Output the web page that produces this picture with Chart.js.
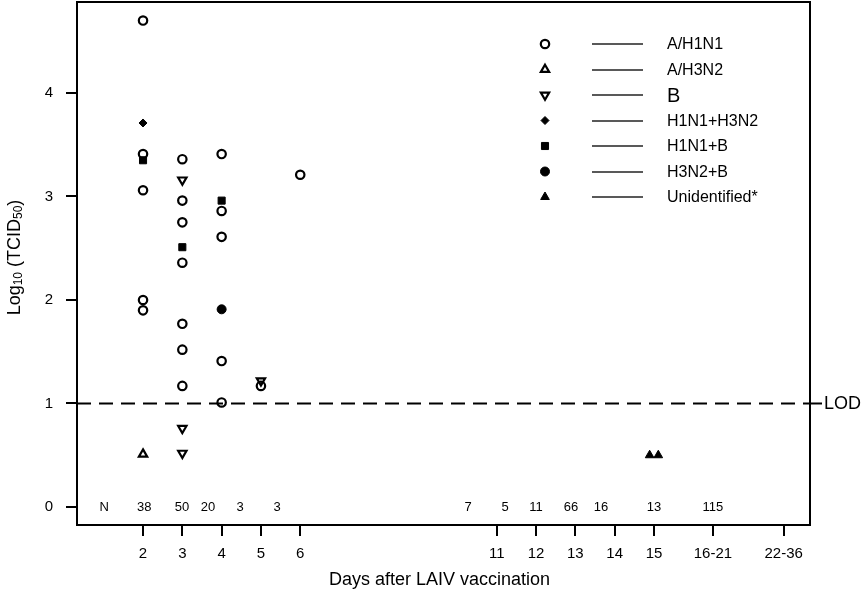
<!DOCTYPE html>
<html>
<head>
<meta charset="utf-8">
<title>Shedding after LAIV vaccination</title>
<script src="https://cdn.jsdelivr.net/npm/chart.js@4.4.1/dist/chart.umd.min.js"></script>
<style>
  html, body { margin: 0; padding: 0; background: #fff; }
  #wrap { width: 866px; height: 600px; }
</style>
</head>
<body>
<div id="wrap"><canvas id="chart" width="866" height="600"></canvas></div>
<script>
'use strict';

/* ── Data (days after vaccination, log10 TCID50) ── */
const DAYS_H1N1  = [2, 2, 2, 2, 2, 3, 3, 3, 3, 3, 3, 3, 4, 4, 4, 4, 4, 5, 6];
const LOG_H1N1   = [4.70, 3.41, 3.06, 2.00, 1.90, 3.36, 2.96, 2.75, 2.36, 1.77, 1.52, 1.17, 3.41, 2.86, 2.61, 1.41, 1.01, 1.17, 3.21];
const DAYS_H3N2  = [2];
const LOG_H3N2   = [0.51];
const DAYS_B     = [3, 3, 3, 5];
const LOG_B      = [3.16, 0.76, 0.52, 1.22];
const DAYS_H1H3  = [2];
const LOG_H1H3   = [3.71];
const DAYS_H1B   = [2, 3, 4];
const LOG_H1B    = [3.35, 2.51, 2.96];
const DAYS_H3B   = [4];
const LOG_H3B    = [1.91];
const DAYS_UNID  = [14.89, 15.11];
const LOG_UNID   = [0.50, 0.50];

/* x-axis ticks (day groups) */
const X_TICKS       = [2, 3, 4, 5, 6, 11, 12, 13, 14, 15, 16.5, 18.3];
const X_TICK_LABELS = ['2', '3', '4', '5', '6', '11', '12', '13', '14', '15', '16-21', '22-36'];
const Y_TICKS       = [0, 1, 2, 3, 4];

/* N row (number of samples per day) */
const N_LABELS = ['N', '38', '50', '20', '3', '3', '7', '5', '11', '66', '16', '13', '115'];
const N_POS    = [1.01, 2.03, 2.99, 3.65, 4.47, 5.41, 10.27, 11.21, 12.0, 12.89, 13.65, 15.0, 16.5];

const LOD = 1;

const FONT = "'Liberation Sans', Arial, sans-serif";
const BLACK = '#000';

/* ── Series styling ── */
const SERIES = [
  { label: 'A/H1N1',        x: DAYS_H1N1, y: LOG_H1N1, style: 'circle',   rot: 0,   r: 4.2, fill: false },
  { label: 'A/H3N2',        x: DAYS_H3N2, y: LOG_H3N2, style: 'triangle', rot: 0,   r: 4.8, fill: false },
  { label: 'B',             x: DAYS_B,    y: LOG_B,    style: 'triangle', rot: 180, r: 4.8, fill: false },
  { label: 'H1N1+H3N2',     x: DAYS_H1H3, y: LOG_H1H3, style: 'rectRot',  rot: 0,   r: 4,   fill: true },
  { label: 'H1N1+B',        x: DAYS_H1B,  y: LOG_H1B,  style: 'rect',     rot: 0,   r: 5,   fill: true },
  { label: 'H3N2+B',        x: DAYS_H3B,  y: LOG_H3B,  style: 'circle',   rot: 0,   r: 4.5, fill: true },
  { label: 'Unidentified*', x: DAYS_UNID, y: LOG_UNID, style: 'triangle', rot: 0,   r: 5,   fill: true },
];

const datasets = SERIES.map(s => ({
  label: s.label,
  data: s.x.map((d, i) => ({ x: d, y: s.y[i] })),
  pointStyle: s.style,
  pointRotation: s.rot,
  pointRadius: s.r,
  pointHoverRadius: s.r,
  pointBorderWidth: s.fill ? 1 : 2.2,
  pointBorderColor: BLACK,
  pointBackgroundColor: s.fill ? BLACK : 'rgba(0,0,0,0)',
  showLine: false,
  clip: false,
}));

/* ── Frame, LOD line, N row, titles, legend ── */
const decorations = {
  id: 'decorations',
  afterDraw(chart) {
    const { ctx, chartArea: a, scales } = chart;
    const xs = scales.x, ys = scales.y;
    ctx.save();

    // box
    ctx.strokeStyle = BLACK;
    ctx.lineWidth = 2;
    ctx.strokeRect(a.left, a.top, a.right - a.left, a.bottom - a.top);

    // LOD dashed line
    const yL = ys.getPixelForValue(LOD);
    ctx.beginPath();
    ctx.setLineDash([14, 8]);
    ctx.moveTo(a.left, yL);
    ctx.lineTo(a.right, yL);
    ctx.stroke();
    ctx.setLineDash([]);
    ctx.beginPath();
    ctx.moveTo(a.right, yL);
    ctx.lineTo(a.right + 12, yL);
    ctx.stroke();
    ctx.fillStyle = BLACK;
    ctx.font = '18px ' + FONT;
    ctx.textAlign = 'left';
    ctx.textBaseline = 'middle';
    ctx.fillText('LOD', a.right + 14, yL + 1);

    // N row
    ctx.font = '13px ' + FONT;
    ctx.textAlign = 'center';
    const y0 = ys.getPixelForValue(0);
    N_LABELS.forEach((t, i) => ctx.fillText(t, xs.getPixelForValue(N_POS[i]), y0));

    // x title
    ctx.font = '18px ' + FONT;
    ctx.fillText('Days after LAIV vaccination', (a.left + a.right) / 2 - 4, 580);

    // y title with subscripts
    const parts = [['Log', 18, 0], ['10', 12, 4], [' (TCID', 18, 0], ['50', 12, 4], [')', 18, 0]];
    let total = 0;
    parts.forEach(p => { ctx.font = p[1] + 'px ' + FONT; total += ctx.measureText(p[0]).width; });
    ctx.translate(15, (a.top + a.bottom) / 2 - 6);
    ctx.rotate(-Math.PI / 2);
    ctx.textAlign = 'left';
    let cx = -total / 2;
    parts.forEach(p => {
      ctx.font = p[1] + 'px ' + FONT;
      ctx.fillText(p[0], cx, p[2]);
      cx += ctx.measureText(p[0]).width;
    });
    ctx.setTransform(1, 0, 0, 1, 0, 0);

    // legend
    SERIES.forEach((s, i) => {
      const ly = a.top + 42 + i * 25.5;
      ctx.fillStyle = s.fill ? BLACK : 'rgba(0,0,0,0)';
      ctx.strokeStyle = BLACK;
      ctx.lineWidth = s.fill ? 1 : 2.2;
      Chart.helpers.drawPoint(ctx, {
        pointStyle: s.style, rotation: s.rot, radius: s.r, borderWidth: ctx.lineWidth,
      }, a.left + 468, ly);
      ctx.beginPath();
      ctx.lineWidth = 1.4;
      ctx.strokeStyle = '#222';
      ctx.moveTo(a.left + 515, Math.round(ly));
      ctx.lineTo(a.left + 566, Math.round(ly));
      ctx.stroke();
      ctx.fillStyle = BLACK;
      ctx.font = (s.label === 'B' ? '20px ' : '16px ') + FONT;
      ctx.textAlign = 'left';
      ctx.fillText(s.label, a.left + 590, ly + 1);
    });

    ctx.restore();
  },
};

new Chart(document.getElementById('chart'), {
  type: 'scatter',
  data: { datasets },
  options: {
    responsive: false,
    animation: false,
    layout: { autoPadding: false, padding: { top: 2, right: 56, left: 0, bottom: 0 } },
    plugins: { legend: { display: false }, tooltip: { enabled: false } },
    scales: {
      x: {
        type: 'linear',
        min: 0.32,
        max: 18.97,
        afterBuildTicks: (s) => { s.ticks = X_TICKS.map(v => ({ value: v })); },
        afterFit: (s) => { s.height = 75; s.paddingLeft = 0; s.paddingRight = 0; },
        ticks: {
          autoSkip: false,
          maxRotation: 0,
          padding: 9,
          color: BLACK,
          font: { family: FONT, size: 15 },
          callback: (v, i) => X_TICK_LABELS[i],
        },
        grid: { drawOnChartArea: false, drawTicks: true, tickLength: 11, color: BLACK, lineWidth: 2 },
        border: { display: true, color: BLACK, width: 2 },
      },
      y: {
        type: 'linear',
        min: -0.174,
        max: 4.879,
        afterBuildTicks: (s) => { s.ticks = Y_TICKS.map(v => ({ value: v })); },
        afterFit: (s) => { s.width = 77; s.paddingTop = 0; s.paddingBottom = 0; },
        ticks: {
          padding: 13,
          color: BLACK,
          font: { family: FONT, size: 15 },
        },
        grid: { drawOnChartArea: false, drawTicks: true, tickLength: 11, color: BLACK, lineWidth: 2 },
        border: { display: true, color: BLACK, width: 2 },
      },
    },
  },
  plugins: [decorations],
});
</script>
</body>
</html>
